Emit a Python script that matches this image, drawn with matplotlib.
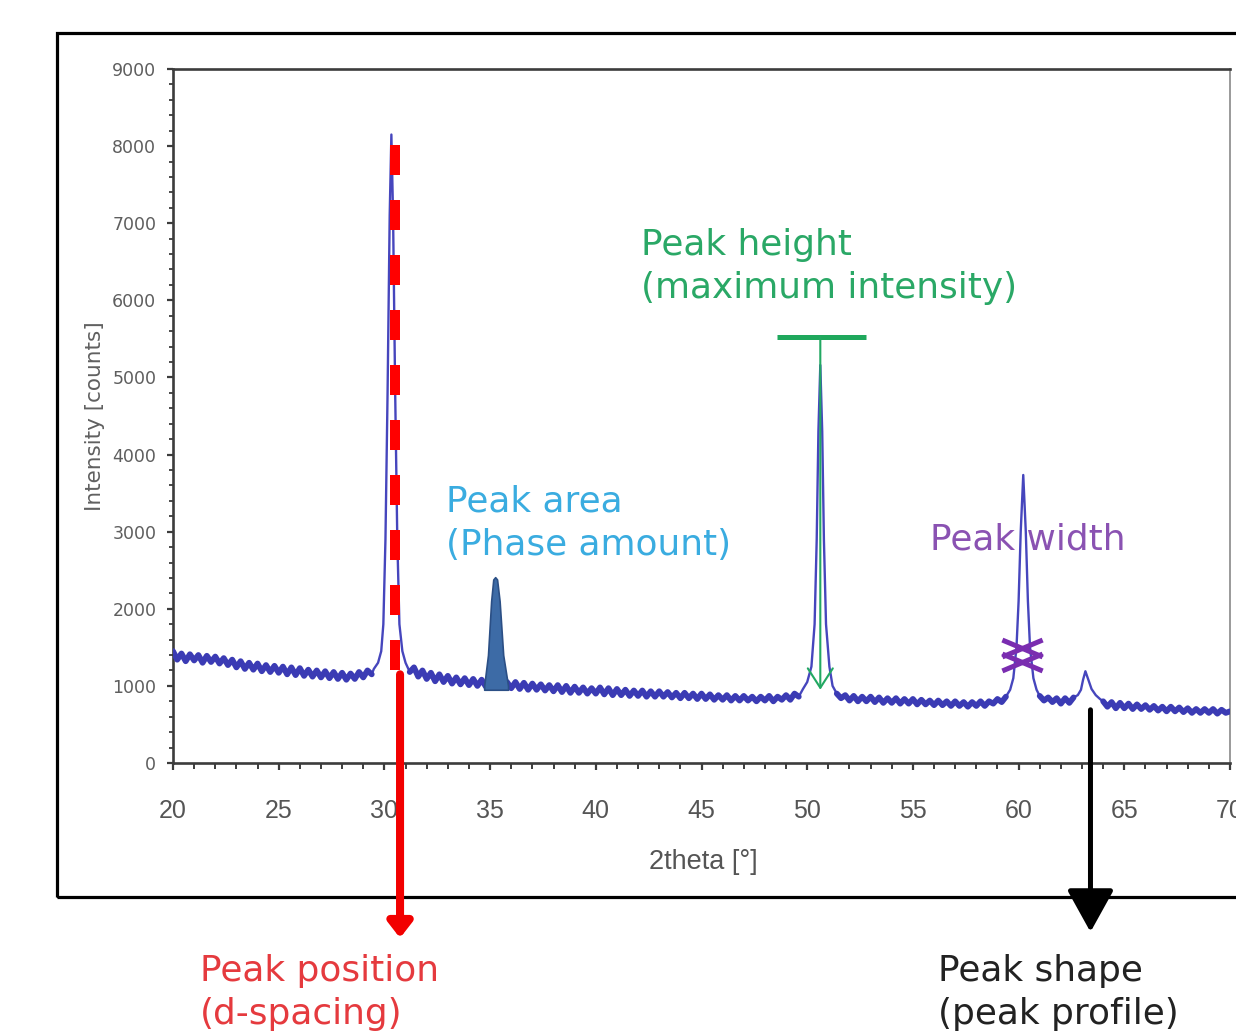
import matplotlib
matplotlib.use("Agg")
import matplotlib.pyplot as plt
import numpy as np
from matplotlib.patches import Rectangle
from matplotlib.path import Path

# ---------------- data ----------------
# background trace sampled every 0.2 deg (20.0 ... 70.0), counts
bg_start, bg_step = 20.0, 0.2
bg_counts = [
    1450, 1340, 1420, 1320, 1410,   # 20
    1330, 1400, 1300, 1390, 1310,   # 21
    1380, 1290, 1360, 1270, 1340,   # 22
    1240, 1320, 1220, 1300, 1210,   # 23
    1290, 1190, 1270, 1180, 1260,   # 24
    1170, 1250, 1150, 1240, 1140,   # 25
    1230, 1130, 1210, 1120, 1200,   # 26
    1110, 1190, 1100, 1180, 1090,   # 27
    1170, 1080, 1160, 1090, 1180,   # 28
    1110, 1200, 1150, 1230, 1200,   # 29
    1300, 1400, 1400, 1300, 1300,   # 30
    1300, 1180, 1240, 1120, 1200,   # 31
    1090, 1170, 1060, 1150, 1050,   # 32
    1130, 1030, 1110, 1020, 1100,   # 33
    1010, 1090, 1000, 1080, 990,    # 34
    1070, 990, 1060, 980, 1050,     # 35
    970, 1050, 960, 1040, 950,      # 36
    1030, 950, 1020, 940, 1010,     # 37
    930, 1010, 920, 1000, 910,      # 38
    990, 910, 980, 900, 970,        # 39
    900, 980, 890, 970, 880,        # 40
    960, 880, 950, 870, 940,        # 41
    870, 940, 860, 930, 860,        # 42
    930, 860, 920, 850, 910,        # 43
    840, 910, 840, 900, 830,        # 44
    900, 830, 890, 820, 880,        # 45
    820, 880, 810, 870, 810,        # 46
    870, 810, 860, 800, 860,        # 47
    810, 870, 800, 860, 820,        # 48
    880, 820, 900, 860, 950,        # 49
    1000, 1200, 1500, 1200, 1000,   # 50
    930, 860, 900, 840, 880,        # 51
    810, 870, 800, 860, 800,        # 52
    860, 790, 850, 780, 840,        # 53
    780, 840, 770, 830, 770,        # 54
    830, 760, 820, 760, 810,        # 55
    750, 810, 750, 800, 740,        # 56
    800, 740, 790, 730, 790,        # 57
    740, 800, 740, 800, 770,        # 58
    830, 790, 860, 850, 950,        # 59
    1500, 2500, 2500, 1500, 1000,   # 60
    870, 810, 850, 790, 840,        # 61
    770, 840, 780, 850, 880,        # 62
    950, 1100, 1000, 900, 820,      # 63
    800, 730, 790, 710, 780,        # 64
    710, 770, 700, 760, 700,        # 65
    750, 690, 740, 680, 730,        # 66
    670, 730, 670, 720, 660,        # 67
    710, 650, 700, 650, 700,        # 68
    650, 700, 640, 690, 650,        # 69
    670,                            # 70
]

# diffraction peaks (2theta, counts)
peak1_x = [29.5, 29.7, 29.85, 29.95, 30.05, 30.15, 30.25, 30.33, 30.41, 30.51, 30.61, 30.71, 30.85, 31.0]
peak1_y = [1220, 1300, 1450, 1800, 2900, 4800, 7100, 8150, 7100, 4800, 2900, 1800, 1450, 1300]
peak3_x = [49.8, 50.0, 50.2, 50.35, 50.45, 50.53, 50.62, 50.71, 50.79, 50.89, 51.05, 51.2]
peak3_y = [960, 1050, 1250, 1800, 2900, 4300, 5160, 4300, 2900, 1800, 1250, 1000]
peak4_x = [59.6, 59.75, 59.9, 60.0, 60.1, 60.22, 60.34, 60.44, 60.54, 60.7, 60.85]
peak4_y = [950, 1100, 1500, 2100, 3000, 3735, 3000, 2100, 1500, 1100, 950]
peak5_x = [62.8, 62.95, 63.05, 63.16, 63.3, 63.45, 63.65, 63.85]
peak5_y = [880, 950, 1080, 1190, 1080, 960, 880, 830]

# highlighted (filled) peak for "Peak area"
area_x = [34.72, 34.9, 35.05, 35.15, 35.24, 35.33, 35.45, 35.62, 35.85]
area_y = [1000, 1400, 2100, 2380, 2410, 2380, 2100, 1400, 1000]
area_base = 950

# annotation anchors (data units)
pos_line_x, pos_line_top, pos_line_bottom = 30.5, 8020, 1040
pos_arrow_x, pos_arrow_start = 30.74, 1150
height_x, height_level, height_bar = 50.62, 5525, (48.58, 52.8)
height_arrow_end = 950
width_x, width_marks = 60.18, (1310, 1495)
shape_x, shape_start = 63.4, 690

x_ticks = [20, 25, 30, 35, 40, 45, 50, 55, 60, 65, 70]
y_ticks = [0, 1000, 2000, 3000, 4000, 5000, 6000, 7000, 8000, 9000]

# ---------------- figure ----------------
W, H = 1236, 1034
fig = plt.figure(figsize=(W / 100, H / 100), dpi=100)
fig.patch.set_facecolor("white")


def fx(px):
    return px / W


def fy(py):
    return 1 - py / H


ax = fig.add_axes([fx(173), fy(763), fx(1230) - fx(173), fy(69) - fy(763)])
ax.set_xlim(20, 70)
ax.set_ylim(0, 9000)

# outer frame (cropped on the right)
fig.add_artist(Rectangle((fx(57), fy(897)), fx(1320) - fx(57), fy(33) - fy(897),
                         transform=fig.transFigure, fill=False, lw=2.3,
                         ec="black", clip_on=False, zorder=0))

# build trace
bg_x = bg_start + bg_step * np.arange(len(bg_counts))
bg_y = np.array(bg_counts, dtype=float)
peaks = [(peak1_x, peak1_y), (peak3_x, peak3_y), (peak4_x, peak4_y), (peak5_x, peak5_y)]
keep = np.ones(len(bg_x), dtype=bool)
for px_, py_ in peaks:
    keep &= ~((bg_x >= min(px_) - 1e-9) & (bg_x <= max(px_) + 1e-9))
tx = list(bg_x[keep])
ty = list(bg_y[keep])
for px_, py_ in peaks:
    tx += px_
    ty += py_
order = np.argsort(tx)
tx = np.array(tx)[order]
ty = np.array(ty)[order]

trace_color = "#3b3bb4"
# thin full trace
ax.plot(tx, ty, color="#4646bd", lw=1.7, zorder=3)
# noisy background band drawn heavier (gaps where the peaks are)
bg_masked = np.where(keep, bg_y, np.nan)
ax.plot(bg_x, bg_masked, color=trace_color, lw=4.2, zorder=3,
        solid_joinstyle="round", solid_capstyle="round")

# peak area fill
ax.fill_between(area_x, area_base, area_y, color="#3d6ba6", ec="#2b4f85", lw=1.2, zorder=4)

# peak position: dashed red line + arrow
ax.plot([pos_line_x, pos_line_x], [pos_line_top, pos_line_bottom], color="#ff0000",
        lw=7.2, dashes=(3.0, 2.5), solid_capstyle="butt", dash_capstyle="butt", zorder=5)
ax.annotate("", xy=(pos_arrow_x, H - 938), xycoords=("data", "figure pixels"),
            xytext=(pos_arrow_x, pos_arrow_start), textcoords="data",
            arrowprops=dict(arrowstyle="-|>,head_length=0.45,head_width=0.35",
                            color="#f20000", lw=5.8, mutation_scale=20,
                            shrinkA=0, shrinkB=0),
            annotation_clip=False, zorder=6)

# peak height: T bar + thin arrow
ax.plot(list(height_bar), [height_level, height_level], color="#1fa85c", lw=3.6,
        solid_capstyle="butt", zorder=5)
ax.annotate("", xy=(height_x, height_arrow_end), xytext=(height_x, height_level),
            arrowprops=dict(arrowstyle="->,head_length=0.7,head_width=0.45",
                            color="#22a862", lw=1.5, mutation_scale=20,
                            shrinkA=0, shrinkB=0), zorder=5)

# peak width markers
xmark = Path([(-1, -0.42), (1, 0.42), (-1, 0.42), (1, -0.42)],
             [Path.MOVETO, Path.LINETO, Path.MOVETO, Path.LINETO])
for yv in width_marks:
    ax.plot([width_x], [yv], marker=xmark, markersize=29, mew=3.6,
            color="#7a2db0", ls="none", zorder=6)

# peak shape arrow
ax.annotate("", xy=(shape_x, H - 932), xycoords=("data", "figure pixels"),
            xytext=(shape_x, shape_start), textcoords="data",
            arrowprops=dict(arrowstyle="-|>,head_length=1.3,head_width=0.72",
                            color="black", lw=3.6, mutation_scale=20,
                            shrinkA=0, shrinkB=0),
            annotation_clip=False, zorder=6)

# ---------------- axes styling ----------------
for side in ["left", "bottom", "top"]:
    ax.spines[side].set_color("#3c3c3c")
    ax.spines[side].set_linewidth(1.9)
ax.spines["right"].set_color("#9a9a9a")
ax.spines["right"].set_linewidth(1.4)

ax.set_xticks(x_ticks)
ax.set_xticks(np.arange(20, 71, 1), minor=True)
ax.set_yticks(y_ticks)
ax.set_yticks(np.arange(0, 9001, 200), minor=True)
ax.set_xticklabels([str(v) for v in x_ticks], fontfamily="Liberation Sans",
                   fontsize=18, color="#555555")
ax.set_yticklabels([str(v) for v in y_ticks], fontfamily="DejaVu Sans",
                   fontsize=12.5, color="#5e5e5e")
ax.tick_params(axis="x", which="major", direction="out", length=5, width=1.6,
               color="#3c3c3c", pad=21)
ax.tick_params(axis="x", which="minor", direction="out", length=4, width=1.4,
               color="#3c3c3c")
ax.tick_params(axis="y", which="major", direction="out", length=4, width=1.6,
               color="#3c3c3c", pad=8)
ax.tick_params(axis="y", which="minor", direction="out", length=3, width=1.3,
               color="#3c3c3c")

fig.text(fx(703), fy(862), "2theta [°]", fontfamily="Liberation Sans", fontsize=19.5,
         color="#555555", ha="center", va="center")
fig.text(fx(95), fy(416), "Intensity [counts]", fontfamily="DejaVu Sans", fontsize=15.5,
         color="#606060", ha="center", va="center", rotation=90)

# ---------------- annotation texts ----------------
tkw = dict(fontfamily="DejaVu Sans", fontsize=25.8, linespacing=1.33, ha="left", va="top",
           transform=fig.transFigure, zorder=1)
ax.text(fx(641), fy(228), "Peak height\n(maximum intensity)", color="#2aa866", **tkw)
ax.text(fx(446), fy(485), "Peak area\n(Phase amount)", color="#3aace0", **tkw)
ax.text(fx(930), fy(522), "Peak width", color="#8a52b2", **tkw)
ax.text(fx(200), fy(954), "Peak position\n(d-spacing)", color="#e53a3e", **tkw)
ax.text(fx(938), fy(954), "Peak shape\n(peak profile)", color="#222222", **tkw)

fig.savefig("out.png", dpi=100, facecolor="white")
